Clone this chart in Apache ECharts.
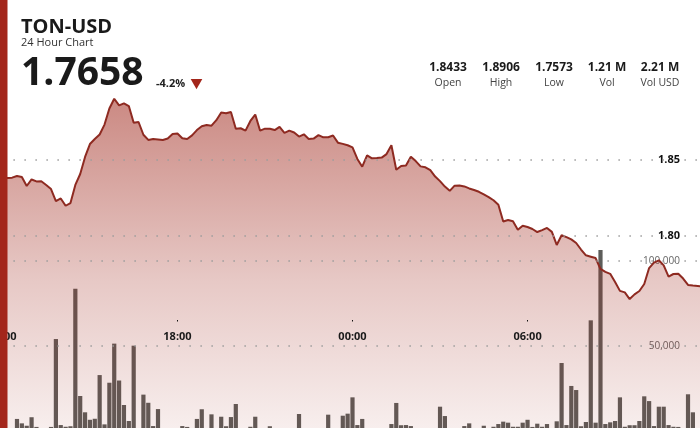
<!DOCTYPE html>
<html>
<head>
<meta charset="utf-8">
<title>TON-USD 24 Hour Chart</title>
<script src="https://cdn.jsdelivr.net/npm/echarts@6.0.0/dist/echarts.min.js"></script>
<style>
  html, body { margin: 0; padding: 0; background: #fff; }
  #chart { width: 700px; height: 428px; }
</style>
</head>
<body>
<div id="chart"></div>
<script>
// 10-minute samples starting at 12:00
const startHour = 12
const stepHours = 10 / 60

const prices = [
  1.8382, 1.8382, 1.8384, 1.8395, 1.8388, 1.8329, 1.8372, 1.8359, 1.8360, 1.8336,
  1.8309, 1.8230, 1.8247, 1.8199, 1.8217, 1.8336, 1.8408, 1.8520, 1.8605, 1.8638,
  1.8668, 1.8733, 1.8839, 1.8903, 1.8859, 1.8873, 1.8855, 1.8745, 1.8750, 1.8666,
  1.8632, 1.8638, 1.8635, 1.8632, 1.8641, 1.8671, 1.8674, 1.8643, 1.8638, 1.8662,
  1.8697, 1.8722, 1.8730, 1.8726, 1.8762, 1.8812, 1.8807, 1.8816, 1.8706, 1.8709,
  1.8693, 1.8757, 1.8799, 1.8693, 1.8706, 1.8706, 1.8697, 1.8718, 1.8678, 1.8693,
  1.8681, 1.8654, 1.8669, 1.8638, 1.8641, 1.8664, 1.8649, 1.8650, 1.8661, 1.8614,
  1.8606, 1.8597, 1.8583, 1.8507, 1.8456, 1.8531, 1.8511, 1.8513, 1.8516, 1.8539,
  1.8597, 1.8436, 1.8461, 1.8464, 1.8522, 1.8493, 1.8458, 1.8452, 1.8433, 1.8391,
  1.8361, 1.8325, 1.8297, 1.8331, 1.8332, 1.8326, 1.8313, 1.8303, 1.8291, 1.8274,
  1.8256, 1.8235, 1.8206, 1.8095, 1.8105, 1.8097, 1.8041, 1.8068, 1.8059, 1.8046,
  1.8026, 1.8039, 1.8053, 1.8027, 1.7941, 1.8005, 1.7993, 1.7978, 1.7954, 1.7911,
  1.7873, 1.7864, 1.7855, 1.7783, 1.7764, 1.7751, 1.7698, 1.7639, 1.7629, 1.7585,
  1.7616, 1.7638, 1.7684, 1.7789, 1.7825, 1.7840, 1.7807, 1.7733, 1.7750, 1.7752,
  1.7720, 1.7678, 1.7674, 1.7671, 1.7668
]

const volumes = [
  2500, 0, 0, 7100, 4500, 3100, 8100, 2400, 0, 0,
  2400, 54100, 3500, 2500, 2800, 83700, 20600, 11000, 6600, 7200,
  32900, 3900, 28400, 51400, 29700, 15300, 5900, 50200, 0, 21400,
  16600, 2900, 12900, 0, 0, 0, 0, 2900, 2400, 0,
  7100, 12800, 0, 9800, 0, 8400, 2800, 8200, 15900, 0,
  0, 2500, 8400, 0, 0, 2800, 0, 0, 0, 0,
  0, 10000, 0, 0, 0, 0, 0, 9600, 0, 0,
  9000, 10200, 19800, 3500, 7100, 0, 0, 0, 0, 0,
  4100, 16500, 3400, 3500, 2900, 0, 0, 0, 0, 0,
  14300, 8800, 0, 0, 0, 2900, 4500, 0, 0, 3100,
  0, 2500, 4100, 5500, 4900, 2500, 2500, 4900, 6600, 2400,
  4300, 2500, 4100, 0, 5700, 40000, 3500, 26500, 24100, 2800,
  5300, 65100, 4900, 106500, 4100, 5100, 5900, 19800, 2500, 3400,
  3400, 5900, 20400, 17600, 2900, 14300, 14300, 3500, 2500, 2400,
  0, 21600, 11000, 0
]

const priceTicks = [1.80, 1.85]
const volumeTicks = [50000, 100000]
const hourTicks = [12, 18, 24, 30]

const statValues = ['1.8433', '1.8906', '1.7573', '1.21 M', '2.21 M']
const statLabels = ['Open', 'High', 'Low', 'Vol', 'Vol USD']
const lastPrice = '1.7658'
const changePct = '-4.2%'

const chart = echarts.init(document.getElementById('chart'))

// pixel layout of the plot
const pxLeft = 2.4
const pxPerHour = 29.175
const xMin = startHour
const xMax = startHour + (700 - pxLeft) / pxPerHour

const priceData = prices.map((v, i) => [startHour + i * stepHours, v])
const volumeData = volumes.map((v, i) => [startHour + i * stepHours, v])

function isTick(list, v) {
  return list.some(t => Math.abs(t - v) < 1e-6)
}

function hourLabel(v) {
  if (!isTick(hourTicks, v)) return ''
  return String(Math.round(v) % 24).padStart(2, '0') + ':00'
}

const dotted = { color: '#9c9c9c', width: 1.5, type: [1.5, 9.5] }
const font = '"Open Sans", "Noto Sans", sans-serif'

const graphic = [
  {
    type: 'rect', z: 100,
    shape: { x: 0, y: 0, width: 7.5, height: 428 },
    style: { fill: '#a3261b' }
  },
  {
    type: 'text', x: 21, y: 27, z: 100,
    style: { text: 'TON-USD', font: 'bold 20px ' + font, fill: '#1a1a1a',
      align: 'left', verticalAlign: 'middle', textAlign: 'left', textVerticalAlign: 'middle' }
  },
  {
    type: 'text', x: 21, y: 43, z: 100,
    style: { text: '24 Hour Chart', font: '11px ' + font, fill: '#333',
      align: 'left', verticalAlign: 'middle', textAlign: 'left', textVerticalAlign: 'middle' }
  },
  {
    type: 'text', x: 21, y: 74, z: 100,
    style: { text: lastPrice, font: 'bold 39px ' + font, fill: '#1a1a1a',
      align: 'left', verticalAlign: 'middle', textAlign: 'left', textVerticalAlign: 'middle' }
  },
  {
    type: 'text', x: 156, y: 84, z: 100,
    style: { text: changePct, font: 'bold 11px ' + font, fill: '#222',
      align: 'left', verticalAlign: 'middle', textAlign: 'left', textVerticalAlign: 'middle' }
  },
  {
    type: 'polygon', z: 100,
    shape: { points: [[190.7, 79], [202.3, 79], [196.5, 89.3]] },
    style: { fill: '#a3261b' }
  }
]

const statCenters = [448, 501, 554, 607, 660]
statValues.forEach((s, i) => {
  graphic.push({
    type: 'text', x: statCenters[i], y: 67.5, z: 100,
    style: { text: s, font: 'bold 12px ' + font, fill: '#1a1a1a',
      align: 'center', verticalAlign: 'middle', textAlign: 'center', textVerticalAlign: 'middle' }
  })
  graphic.push({
    type: 'text', x: statCenters[i], y: 83, z: 100,
    style: { text: statLabels[i], font: '10.5px ' + font, fill: '#444',
      align: 'center', verticalAlign: 'middle', textAlign: 'center', textVerticalAlign: 'middle' }
  })
})

const option = {
  animation: false,
  backgroundColor: '#fff',
  textStyle: { fontFamily: font },
  graphic: graphic,
  grid: [
    { left: pxLeft, width: 700 - pxLeft, top: 0, height: 464, outerBoundsMode: 'none', containLabel: false },
    { left: pxLeft, width: 700 - pxLeft, top: 0, height: 431, outerBoundsMode: 'none', containLabel: false },
    { left: pxLeft, width: 700 - pxLeft, top: 0, height: 320, outerBoundsMode: 'none', containLabel: false }
  ],
  xAxis: [
    { gridIndex: 0, type: 'value', min: xMin, max: xMax, show: false },
    { gridIndex: 1, type: 'value', min: xMin, max: xMax, show: false },
    {
      gridIndex: 2, type: 'value', min: xMin, max: xMax, interval: 6, z: 10,
      axisLine: { show: false },
      axisTick: { show: true, length: 1.5, lineStyle: { color: '#111', width: 1 } },
      splitLine: { show: false },
      axisLabel: {
        formatter: hourLabel, color: '#1a1a1a', fontWeight: 'bold', fontSize: 11,
        fontFamily: font, margin: 11, showMaxLabel: false, alignMinLabel: 'center'
      }
    }
  ],
  yAxis: [
    {
      gridIndex: 0, type: 'value', position: 'right',
      min: 1.65, max: 1.65 + 464 / 76 * 0.05, interval: 0.05,
      axisLine: { show: false }, axisTick: { show: false }, splitLine: { show: false },
      axisLabel: {
        inside: true, margin: 20,
        formatter: v => isTick(priceTicks, v) ? v.toFixed(2) : '',
        color: '#111', fontWeight: 'bold', fontSize: 11, fontFamily: font
      }
    },
    {
      gridIndex: 1, type: 'value', position: 'right',
      min: 0, max: 431 / 85 * 50000, interval: 50000,
      axisLine: { show: false }, axisTick: { show: false }, splitLine: { show: false },
      axisLabel: {
        inside: true, margin: 20,
        formatter: v => isTick(volumeTicks, v) ? v.toLocaleString('en-US') : '',
        color: '#666', fontSize: 10, fontFamily: font
      }
    },
    { gridIndex: 2, type: 'value', show: false }
  ],
  series: [
    {
      name: 'Price',
      type: 'line',
      xAxisIndex: 0,
      yAxisIndex: 0,
      data: priceData,
      symbol: 'none',
      clip: true,
      lineStyle: { color: '#8e2a21', width: 2 },
      areaStyle: {
        color: {
          type: 'linear', x: 0, y: 0, x2: 0, y2: 1,
          colorStops: [
            { offset: 0, color: 'rgba(160, 40, 28, 0.78)' },
            { offset: 0.5, color: 'rgba(160, 40, 28, 0.36)' },
            { offset: 1, color: 'rgba(160, 40, 28, 0.05)' }
          ]
        }
      },
      markLine: {
        silent: true, symbol: 'none', label: { show: false },
        lineStyle: dotted,
        data: priceTicks.map(v => ({ yAxis: v }))
      }
    },
    {
      name: 'Volume',
      type: 'bar',
      xAxisIndex: 1,
      yAxisIndex: 1,
      data: volumeData,
      barWidth: 4.2,
      itemStyle: { color: '#5d5d5a' },
      markLine: {
        silent: true, symbol: 'none', label: { show: false },
        lineStyle: dotted,
        data: volumeTicks.map(v => ({ yAxis: v }))
      }
    }
  ]
}

chart.setOption(option)
</script>
</body>
</html>
